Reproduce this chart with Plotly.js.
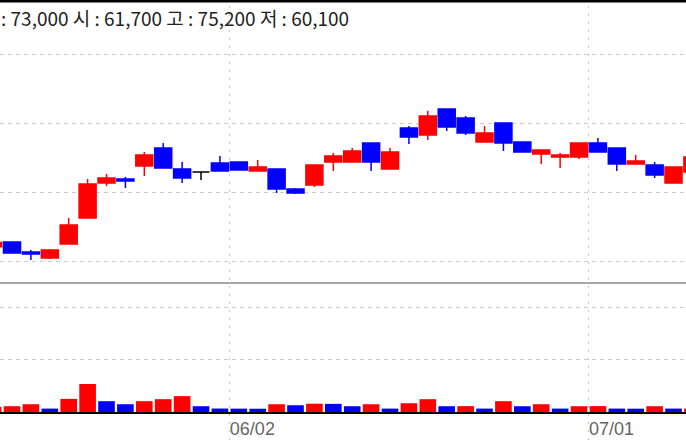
<!DOCTYPE html>
<html><head><meta charset="utf-8">
<script src="https://cdn.plot.ly/plotly-3.0.1.min.js"></script>
<style>html,body{margin:0;padding:0;background:#fff;overflow:hidden;} #chart{width:686px;height:440px;}</style>
</head><body><div id="chart"></div>
<script>
// Trading days (index -1 .. 36)
const dates = [
  '2014-05-14','2014-05-15','2014-05-16','2014-05-19','2014-05-20','2014-05-21','2014-05-22','2014-05-23',
  '2014-05-26','2014-05-27','2014-05-28','2014-05-29','2014-05-30',
  '2014-06-02','2014-06-03','2014-06-05','2014-06-09','2014-06-10','2014-06-11','2014-06-12','2014-06-13',
  '2014-06-16','2014-06-17','2014-06-18','2014-06-19','2014-06-20','2014-06-23','2014-06-24','2014-06-25',
  '2014-06-26','2014-06-27','2014-06-30',
  '2014-07-01','2014-07-02','2014-07-03','2014-07-04','2014-07-07','2014-07-08'
];
const openP  = [61100,61440,60720,60290,61300,63170,65700,65990,66930,68230,66710,66490,67140,67220,66570,66710,65270,65560,67220,67220,68590,66710,69670,69160,71040,70390,68660,70030,68660,67790,67580,67580,68590,68230,67070,67000,65700,66490];
const highP  = [61400,61440,60870,60940,63170,65990,66350,66130,67940,68590,67220,66490,67650,67220,67360,66710,65340,67000,67860,68230,68590,68230,69810,70900,71040,70530,69810,70030,68660,68080,67860,68590,68950,68230,67720,67220,66850,67580];
const lowP   = [61100,60650,60140,60220,61300,63170,65480,65340,66200,66780,65700,65920,66570,66640,66570,64980,64910,65410,66570,67220,66570,66710,68510,68800,69450,69160,68660,68010,67940,67070,66780,67430,67940,66570,67070,66060,65700,66490];
const closeP = [61400,60650,60580,60870,62670,65630,66060,65840,67720,66780,66060,66490,66570,66640,66850,65270,64980,67000,67650,68010,67220,67940,69020,70530,69740,69310,69310,68590,67940,68080,67720,68590,67940,67070,67290,66280,66850,67580];
const volumeK = [100,110,148,65,250,533,206,148,206,244,302,110,66,64,62,148,129,158,155,110,148,65,167,244,110,112,65,206,110,148,65,110,112,65,63,110,65,67];
const headerText = ': 73,000 시 : 61,700 고 : 75,200 저 : 60,100';
const priceGrid = [60000, 65000, 70000, 75000];
const volumeGrid = [1000, 2000];

const RED = '#ff0000', BLUE = '#0000ff', BLACK = '#000000';
const xIdx = dates.map((d, i) => i - 1);

// month-start ticks
const tickIdx = [], tickText = [];
for (let i = 1; i < dates.length; i++) {
  if (dates[i].slice(5, 7) !== dates[i - 1].slice(5, 7)) {
    tickIdx.push(xIdx[i] - 0.5);
    tickText.push(dates[i].slice(5, 7) + '/' + dates[i].slice(8, 10));
  }
}

function group(pred) {
  const g = {x: [], open: [], high: [], low: [], close: []};
  for (let i = 0; i < dates.length; i++) {
    if (pred(i)) {
      g.x.push(xIdx[i]); g.open.push(openP[i]); g.high.push(highP[i]);
      g.low.push(lowP[i]); g.close.push(closeP[i]);
    }
  }
  return g;
}
function candle(g, color) {
  return Object.assign({
    type: 'candlestick', xaxis: 'x', yaxis: 'y', hoverinfo: 'skip', showlegend: false,
    whiskerwidth: 0,
    increasing: {line: {color: color, width: 1.5}, fillcolor: color},
    decreasing: {line: {color: color, width: 1.5}, fillcolor: color}
  }, g);
}
const up = group(i => closeP[i] > openP[i]);
const dn = group(i => closeP[i] < openP[i]);
const fl = group(i => closeP[i] === openP[i]);

const volColors = volumeK.map((v, i) => (i > 0 && v < volumeK[i - 1]) ? BLUE : RED);

const traces = [
  candle(up, RED), candle(dn, BLUE), candle(fl, BLACK),
  {type: 'bar', x: xIdx, y: volumeK, xaxis: 'x', yaxis: 'y2', width: 0.88,
   marker: {color: volColors, line: {width: 0}}, hoverinfo: 'skip', showlegend: false}
];

const PH = 412; // plot height in px (440 - bottom margin)
const sepPaper = (PH - 283) / PH;
const shapes = [];
tickIdx.forEach(t => shapes.push({type: 'line', xref: 'x', yref: 'paper', x0: t, x1: t, y0: -28 / PH, y1: 1,
  line: {color: '#c4c4c4', width: 1, dash: '2px,6px'}, layer: 'below'}));
shapes.push({type: 'line', xref: 'paper', yref: 'paper', x0: 0, x1: 1, y0: sepPaper, y1: sepPaper,
  line: {color: '#a6a6a6', width: 2}});
shapes.push({type: 'line', xref: 'paper', yref: 'paper', x0: 0, x1: 1, y0: 1, y1: 1,
  line: {color: '#000', width: 5}});

const layout = {
  width: 686, height: 440,
  margin: {l: 0, r: 0, t: 0, b: 28, pad: 0},
  paper_bgcolor: '#fff', plot_bgcolor: '#fff',
  showlegend: false, boxgap: 0.1, boxgroupgap: 0,
  xaxis: {type: 'linear', range: [-0.635, 35.66], anchor: 'y2', rangeslider: {visible: false},
    showgrid: false, zeroline: false, showline: true, linecolor: '#000', linewidth: 2,
    tickmode: 'array', tickvals: tickIdx, ticktext: tickText, ticks: '',
    tickfont: {family: 'Liberation Sans Narrow, Arial Narrow, sans-serif', size: 18, color: '#666'},
    ticklabelshift: 23, ticklabelstandoff: -1, fixedrange: true},
  yaxis: {domain: [sepPaper, 1], range: [58485, 78896], anchor: 'x',
    tickmode: 'array', tickvals: priceGrid, showticklabels: false, ticks: '',
    showgrid: true, gridcolor: '#cccccc', griddash: '4px,4px', gridwidth: 1, zeroline: false, showline: false, fixedrange: true},
  yaxis2: {domain: [0, (PH - 284) / PH], range: [0, 2438], anchor: 'x',
    tickmode: 'array', tickvals: volumeGrid, showticklabels: false, ticks: '',
    showgrid: true, gridcolor: '#cccccc', griddash: '4px,4px', gridwidth: 1, zeroline: false, showline: false, fixedrange: true},
  shapes: shapes,
  annotations: [{xref: 'paper', yref: 'paper', x: 0, y: 1, xanchor: 'left', yanchor: 'top', yshift: -2, xshift: -1,
    showarrow: false, text: headerText,
    font: {family: 'Liberation Sans Narrow, Noto Sans CJK KR, sans-serif', size: 19, color: '#222'}}]
};

Plotly.newPlot('chart', traces, layout, {displayModeBar: false, staticPlot: true});
</script>
</body></html>
